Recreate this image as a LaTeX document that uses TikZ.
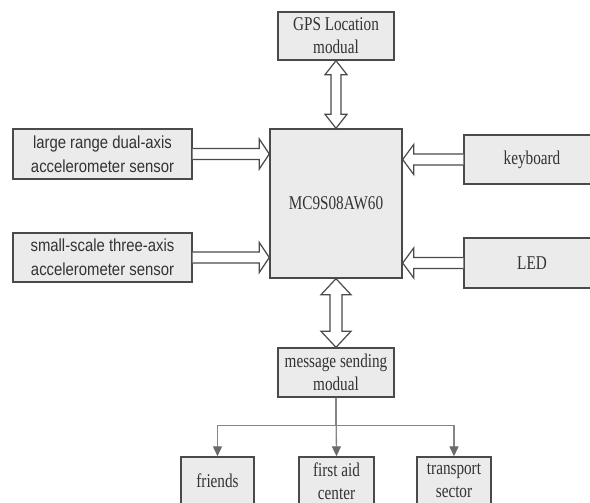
\documentclass[tikz,border=0pt]{standalone}
\usepackage{fontspec}
\setmainfont{Liberation Serif}
\newfontfamily\condserif[FakeStretch=0.78]{Liberation Serif}
\newfontfamily\condsans[FakeStretch=0.85]{Liberation Sans}
\usetikzlibrary{arrows.meta,calc}
\definecolor{bd}{HTML}{4A4A4A}
\definecolor{bxfill}{HTML}{EBEBEB}
\definecolor{treeline}{HTML}{858585}
\definecolor{tiptone}{HTML}{6A6A6A}
\definecolor{txt}{HTML}{333333}
\newcommand\wideone[5]{%
  \coordinate (wb) at ($(#2)!#5!(#1)$);
  \draw[widearrow] ($(#1)!#3!90:(#2)$) -- ($(wb)!#3!90:(#2)$) -- ($(wb)!#4!90:(#2)$) -- (#2)
     -- ($(wb)!#4!-90:(#2)$) -- ($(wb)!#3!-90:(#2)$) -- ($(#1)!#3!-90:(#2)$);
}
\newcommand\widetwo[5]{%
  \coordinate (wa) at ($(#1)!#5!(#2)$);
  \coordinate (wb) at ($(#2)!#5!(#1)$);
  \draw[widearrow] (#1) -- ($(wa)!#4!90:(#2)$) -- ($(wa)!#3!90:(#2)$) -- ($(wb)!#3!90:(#2)$)
     -- ($(wb)!#4!90:(#2)$) -- (#2) -- ($(wb)!#4!-90:(#2)$) -- ($(wb)!#3!-90:(#2)$)
     -- ($(wa)!#3!-90:(#2)$) -- ($(wa)!#4!-90:(#2)$) -- cycle;
}
\begin{document}
\begin{tikzpicture}[x=1pt,y=-1pt,
  box/.style={draw=bd, fill=bxfill, line width=1.4pt, inner sep=0pt, align=center, text=txt},
  sbox/.style={box, font=\condserif\fontsize{19.5}{23}\selectfont},
  abox/.style={box, font=\condsans\fontsize{17.5}{24}\selectfont},
  widearrow/.style={draw=bd, fill=white, line width=1.2pt, line join=miter},
  tree/.style={draw=treeline, line width=1.3pt, -{Triangle[length=10pt,width=9pt,fill=tiptone,color=tiptone]}}
]
\useasboundingbox (0,0) rectangle (590,503);
\clip (0,0) rectangle (590,503);
\fill[white] (0,0) rectangle (590,503);

\node[sbox, minimum width=116pt, minimum height=48pt] (gps) at (336,36) {GPS Location\\modual};
\node[sbox, minimum width=132pt, minimum height=149pt] (mc) at (336,203.5) {MC9S08AW60};
\node[abox, minimum width=179pt, minimum height=50pt] (large) at (102.5,154) {large range dual-axis\\accelerometer sensor};
\node[abox, minimum width=179pt, minimum height=49pt] (small) at (102.5,257.5) {small-scale three-axis\\accelerometer sensor};
\node[sbox, minimum width=136pt, minimum height=49pt] (kb) at (532,159.5) {keyboard};
\node[sbox, minimum width=136pt, minimum height=50pt] (led) at (532,263) {LED};
\node[sbox, minimum width=116pt, minimum height=49pt] (msg) at (336,372.5) {message sending\\modual};
\node[sbox, minimum width=73pt, minimum height=48pt] (friends) at (217.5,481) {friends};
\node[sbox, minimum width=75pt, minimum height=48pt] (aid) at (336.5,481) {first aid\\center};
\node[sbox, minimum width=74pt, minimum height=48pt] (trans) at (454,481) {transport\\sector};

\coordinate (t1) at (large.east -| mc.west);
\coordinate (t2) at (small.east -| mc.west);
\coordinate (t3) at (kb.west -| mc.east);
\coordinate (t4) at (led.west -| mc.east);

\wideone{large.east}{t1}{5.5pt}{15pt}{10pt}
\wideone{small.east}{t2}{5.5pt}{15pt}{10pt}
\wideone{kb.west}{t3}{5.5pt}{15pt}{11pt}
\wideone{led.west}{t4}{5.5pt}{15pt}{11pt}
\widetwo{gps.south}{mc.north}{5pt}{11pt}{14pt}
\widetwo{mc.south}{msg.north}{6pt}{15pt}{16pt}

\draw[tree] (msg.south) -- ++(0,28) -| (friends.north);
\draw[tree] (msg.south) -- (aid.north);
\draw[tree] (msg.south) -- ++(0,28) -| (trans.north);
\end{tikzpicture}
\end{document}
